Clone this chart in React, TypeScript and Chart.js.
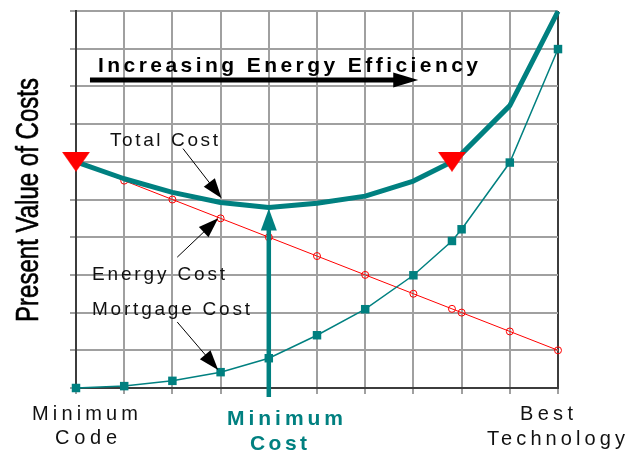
import React, { useEffect, useRef } from "react";
import { Chart, registerables } from "chart.js";

Chart.register(...registerables);

// ---- data (in grid units) ----
const xValues = [0, 1, 2, 3, 4, 5, 6, 7, 7.8, 8, 9, 10];
const energyCost = [6.0, 5.5, 5.0, 4.5, 4.0, 3.5, 3.0, 2.5, 2.1, 2.0, 1.5, 1.0];
const mortgageCost = [0, 0.05, 0.19, 0.42, 0.79, 1.4, 2.09, 2.99, 3.9, 4.21, 5.98, 8.99];
const totalCost = [6.0, 5.55, 5.19, 4.92, 4.79, 4.9, 5.09, 5.49, 6.0, 6.21, 7.49, 9.99];
const equalCostX = [0, 7.8];
const equalCostY = [6.0, 6.0];
const minimumCostX = 4;
const minimumCostTip = 4.76;

const yTitle = "Present Value of Costs";
const leftLabel = ["Minimum", "Code"];
const rightLabel = ["Best", "Technology"];
const minLabel = ["Minimum", "Cost"];
const topLabel = "Increasing Energy Efficiency";
const totalLabel = "Total Cost";
const energyLabel = "Energy Cost";
const mortgageLabel = "Mortgage Cost";

const TEAL = "#008080";
const RED = "#ff0000";
const GRID = "#a0a0a0";
const AXIS = "#3c3c3c";
const FONT = "'Liberation Sans', Arial, sans-serif";

function makeTriangle(): HTMLCanvasElement {
  const c = document.createElement("canvas");
  c.width = 28;
  c.height = 20;
  const g = c.getContext("2d")!;
  g.fillStyle = RED;
  g.beginPath();
  g.moveTo(0, 0);
  g.lineTo(28, 0);
  g.lineTo(14, 20);
  g.closePath();
  g.fill();
  return c;
}

function arrow(ctx: CanvasRenderingContext2D, x0: number, y0: number, x1: number, y1: number, len: number, wid: number, lw: number, color: string) {
  const ang = Math.atan2(y1 - y0, x1 - x0);
  const bx = x1 - len * Math.cos(ang);
  const by = y1 - len * Math.sin(ang);
  ctx.strokeStyle = color;
  ctx.lineWidth = lw;
  ctx.lineCap = "butt";
  ctx.beginPath();
  ctx.moveTo(x0, y0);
  ctx.lineTo(bx + Math.cos(ang), by + Math.sin(ang));
  ctx.stroke();
  ctx.fillStyle = color;
  ctx.beginPath();
  ctx.moveTo(x1, y1);
  ctx.lineTo(bx + (wid / 2) * Math.sin(ang), by - (wid / 2) * Math.cos(ang));
  ctx.lineTo(bx - (wid / 2) * Math.sin(ang), by + (wid / 2) * Math.cos(ang));
  ctx.closePath();
  ctx.fill();
}

function spaced(ctx: any, text: string, x0: number, x1: number, baseline: number, font: string, color: string) {
  ctx.font = font;
  ctx.letterSpacing = "0px";
  const w = ctx.measureText(text).width;
  const n = text.length;
  const sp = n > 1 ? (x1 - x0 - w) / (n - 1) : 0;
  ctx.letterSpacing = sp + "px";
  ctx.fillStyle = color;
  ctx.textAlign = "left";
  ctx.textBaseline = "alphabetic";
  ctx.fillText(text, x0, baseline);
  ctx.letterSpacing = "0px";
}

const annotPlugin = {
  id: "annot",
  afterDraw(chart: any) {
    const ctx = chart.ctx as any;
    const xs = chart.scales.x;
    const ys = chart.scales.y;
    const px = (v: number) => xs.getPixelForValue(v);
    const py = (v: number) => ys.getPixelForValue(v);
    ctx.save();

    // arrows
    arrow(ctx, px(2.22), py(6.35), px(3.02), py(5.03), 20, 14, 1, "#000");
    arrow(ctx, px(2.1), py(3.47), px(2.95), py(4.5), 20, 14, 1, "#000");
    arrow(ctx, px(2.1), py(1.75), px(2.95), py(0.48), 20, 14, 1, "#000");
    arrow(ctx, px(0.29), py(8.17), px(7.1), py(8.17), 25, 15, 5, "#000");
    arrow(ctx, px(minimumCostX), py(-0.24), px(minimumCostX), py(minimumCostTip), 22, 16, 4.5, TEAL);

    // texts
    spaced(ctx, topLabel, 98, 478, 72, `bold 21px ${FONT}`, "#000");
    spaced(ctx, totalLabel, 110, 218, 146, `19px ${FONT}`, "#111");
    spaced(ctx, energyLabel, 92, 225, 280, `19px ${FONT}`, "#111");
    spaced(ctx, mortgageLabel, 92, 250, 315, `19px ${FONT}`, "#111");

    spaced(ctx, leftLabel[0], 32, 138, 420, `20px ${FONT}`, "#111");
    spaced(ctx, leftLabel[1], 55, 117, 444, `20px ${FONT}`, "#111");
    spaced(ctx, rightLabel[0], 520, 573, 420, `20px ${FONT}`, "#111");
    spaced(ctx, rightLabel[1], 487, 625, 445, `20px ${FONT}`, "#111");
    spaced(ctx, minLabel[0], 227, 343, 425, `bold 21px ${FONT}`, TEAL);
    spaced(ctx, minLabel[1], 250, 307, 450, `bold 21px ${FONT}`, TEAL);

    // y title (rotated, condensed)
    ctx.font = `32px ${FONT}`;
    ctx.letterSpacing = "0px";
    const w = ctx.measureText(yTitle).width;
    ctx.translate(38, 322);
    ctx.rotate(-Math.PI / 2);
    ctx.scale(244 / w, 1);
    ctx.fillStyle = "#000";
    ctx.strokeStyle = "#000";
    ctx.lineWidth = 0.6;
    ctx.textAlign = "left";
    ctx.textBaseline = "alphabetic";
    ctx.fillText(yTitle, 0, 0);
    ctx.strokeText(yTitle, 0, 0);

    ctx.restore();
  },
};

export default function App() {
  const ref = useRef<HTMLCanvasElement | null>(null);

  useEffect(() => {
    if (!ref.current) return;
    const tri = makeTriangle();
    const pts = (ys: number[]) => xValues.map((x, i) => ({ x, y: ys[i] }));
    const chart = new Chart(ref.current, {
      type: "line",
      data: {
        datasets: [
          {
            label: "Equal cost",
            data: equalCostX.map((x, i) => ({ x, y: equalCostY[i] })),
            showLine: false,
            pointStyle: tri as any,
            pointRadius: 10,
            order: 0,
            clip: false as any,
          },
          {
            label: "Total Cost",
            data: pts(totalCost),
            borderColor: TEAL,
            borderWidth: 5,
            pointRadius: 0,
            borderJoinStyle: "round",
            order: 1,
            clip: false as any,
          },
          {
            label: "Mortgage Cost",
            data: pts(mortgageCost),
            borderColor: TEAL,
            borderWidth: 1.5,
            pointStyle: "rect",
            pointRadius: 6,
            pointBackgroundColor: TEAL,
            pointBorderColor: TEAL,
            pointBorderWidth: 0,
            order: 2,
            clip: false as any,
          },
          {
            label: "Energy Cost",
            data: pts(energyCost),
            borderColor: RED,
            borderWidth: 1,
            pointStyle: "circle",
            pointRadius: 3.5,
            pointBackgroundColor: "rgba(0,0,0,0)",
            pointBorderColor: RED,
            pointBorderWidth: 1,
            order: 3,
            clip: false as any,
          },
        ],
      },
      options: {
        animation: false,
        responsive: false,
        devicePixelRatio: 1,
        events: [],
        layout: { padding: { left: 70, right: 79, top: 10, bottom: 58 } },
        elements: { line: { tension: 0 } },
        plugins: { legend: { display: false }, tooltip: { enabled: false } },
        scales: {
          x: {
            type: "linear",
            min: 0,
            max: 10,
            ticks: { display: false, stepSize: 1 },
            grid: {
              color: (c: any) => (c.index === 10 ? AXIS : GRID),
              tickColor: GRID,
              lineWidth: 2,
              drawTicks: true,
              tickLength: 6,
            },
            border: { display: true, color: AXIS, width: 2 },
          },
          y: {
            type: "linear",
            min: 0,
            max: 10,
            ticks: { display: false, stepSize: 1 },
            grid: { color: GRID, tickColor: GRID, lineWidth: 2, drawTicks: true, tickLength: 6 },
            border: { display: true, color: AXIS, width: 2 },
          },
        },
      },
      plugins: [annotPlugin],
    } as any);
    return () => chart.destroy();
  }, []);

  return (
    <div style={{ position: "absolute", left: 0, top: 0, width: 637, height: 452, background: "#fff" }}>
      <canvas ref={ref} width={637} height={452} style={{ display: "block" }} />
    </div>
  );
}
